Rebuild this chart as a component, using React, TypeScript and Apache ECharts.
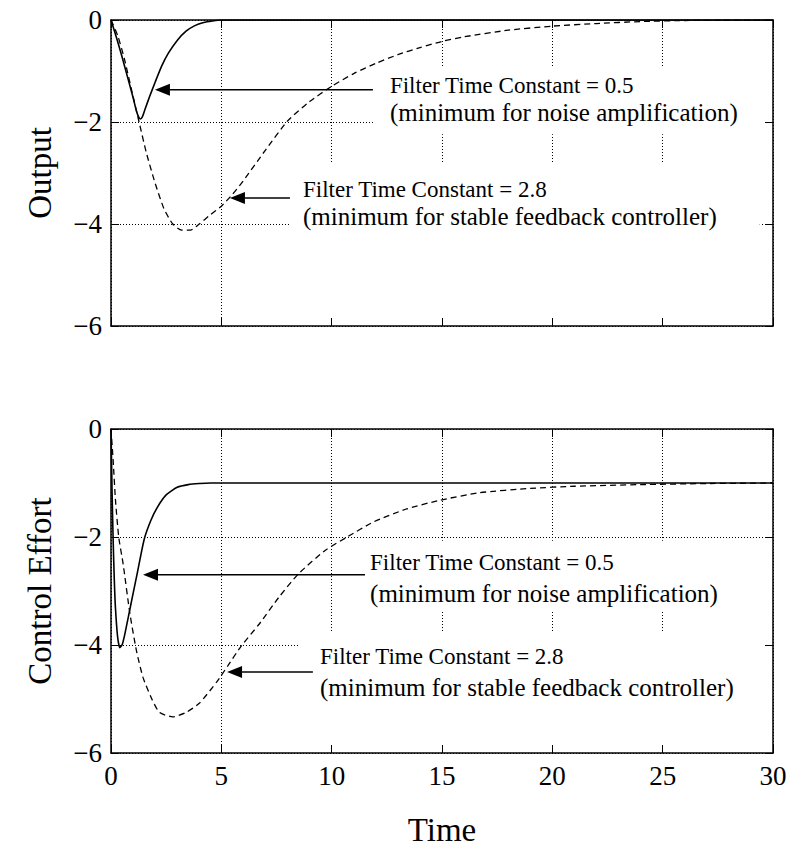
import React, { useEffect, useRef } from "react";
import * as echarts from "echarts";

// ---------- data ----------
const xTickValues = [0, 5, 10, 15, 20, 25, 30];
const yTickValues = [0, -2, -4, -6];

// Output, filter time constant 0.5 (solid)
const tOutFast = [0, 0.25, 0.5, 0.75, 1.0, 1.15, 1.25, 1.33, 1.42, 1.55, 1.75, 2.0, 2.3, 2.6, 3.0, 3.4, 3.8, 4.2, 4.6, 5, 30];
const vOutFast = [0, -0.35, -0.72, -1.12, -1.52, -1.78, -1.9, -1.94, -1.9, -1.74, -1.5, -1.22, -0.9, -0.65, -0.4, -0.22, -0.11, -0.05, -0.02, 0, 0];

// Output, filter time constant 2.8 (dashed)
const tOutSlow = [0, 0.3, 0.6, 1.0, 1.3, 1.6, 2.0, 2.4, 2.8, 3.2, 3.6, 4.0, 4.5, 5.0, 5.5, 6, 7, 8, 9, 10, 11, 12, 13, 14, 15, 16, 18, 20, 22, 24, 26, 30];
const vOutSlow = [0, -0.3, -0.75, -1.5, -2.05, -2.6, -3.2, -3.7, -4.0, -4.12, -4.12, -4.0, -3.82, -3.65, -3.42, -3.15, -2.55, -1.98, -1.6, -1.3, -1.05, -0.85, -0.68, -0.54, -0.42, -0.33, -0.2, -0.12, -0.07, -0.03, -0.01, 0];

// Control effort, filter time constant 0.5 (solid)
const tCtlFast = [0, 0.05, 0.1, 0.15, 0.2, 0.3, 0.4, 0.5, 0.6, 0.8, 1.0, 1.2, 1.5, 1.8, 2.1, 2.5, 3.0, 3.5, 4.0, 4.5, 5, 30];
const vCtlFast = [0, -1.2, -2.1, -2.8, -3.3, -3.85, -4.05, -4.0, -3.85, -3.45, -3.05, -2.65, -2.05, -1.7, -1.45, -1.22, -1.08, -1.03, -1.01, -1.0, -1.0, -1.0];

// Control effort, filter time constant 2.8 (dashed)
const tCtlSlow = [0, 0.1, 0.2, 0.35, 0.55, 0.85, 1.15, 1.45, 1.85, 2.2, 2.8, 3.4, 4.0, 4.8, 5.3, 5.9, 6.7, 7.6, 8.5, 9.7, 10.7, 11.9, 13.4, 14.9, 16.7, 19, 21, 24, 27, 30];
const vCtlSlow = [0, -0.6, -1.3, -2.0, -2.5, -3.4, -4.1, -4.6, -5.0, -5.25, -5.33, -5.25, -5.08, -4.68, -4.38, -4.02, -3.62, -3.12, -2.68, -2.25, -2.0, -1.72, -1.48, -1.32, -1.18, -1.1, -1.06, -1.03, -1.01, -1.0];

const labelFast = ["Filter Time Constant = 0.5", "(minimum for noise amplification)"];
const labelSlow = ["Filter Time Constant = 2.8", "(minimum for stable feedback controller)"];

const xTitle = "Time";
const yTitleTop = "Output";
const yTitleBottom = "Control Effort";

// ---------- annotation placement (data coordinates) ----------
const annotations = [
  { g: 0, lines: labelFast, tip: [1.99, -1.37], tailT: 11.87, textT: 12.64, line1V: -1.29, line2V: -1.82 },
  { g: 0, lines: labelSlow, tip: [5.39, -3.49], tailT: 8.11, textT: 8.7, line1V: -3.33, line2V: -3.86 },
  { g: 1, lines: labelFast, tip: [1.45, -2.7], tailT: 11.51, textT: 11.74, line1V: -2.48, line2V: -3.04 },
  { g: 1, lines: labelSlow, tip: [5.26, -4.5], tailT: 9.15, textT: 9.47, line1V: -4.22, line2V: -4.78 },
];
// white boxes behind the texts (hide grid lines), [t0, v0, t1, v1]
const masks = [
  { g: 0, box: [11.87, -0.94, 30, -2.24] },
  { g: 0, box: [8.11, -2.8, 29.4, -6] },
  { g: 1, box: [11.5, -2.07, 30, -3.39] },
  { g: 1, box: [8.56, -3.76, 30, -5.85] },
];

const FONT = "Liberation Serif";

const fmt = (v: number) => (v < 0 ? "\u2212" + Math.abs(v) : String(Math.abs(v)));

function makeOption(): any {
  const grids = [
    { left: 111, top: 20, width: 662, height: 306, containLabel: false, outerBoundsMode: "none" },
    { left: 111, top: 429, width: 662, height: 324, containLabel: false, outerBoundsMode: "none" },
  ];
  const xAxis: any[] = [];
  const yAxis: any[] = [];
  [0, 1].forEach((gi) => {
    const base = { type: "value", gridIndex: gi, min: 0, max: 30, interval: 5 };
    xAxis.push({
      ...base, position: "bottom", z: 0,
      axisLine: { show: false }, axisTick: { show: false }, axisLabel: { show: false },
      splitLine: { show: true, lineStyle: { color: "#000", width: 1, type: [1, 2] } },
    });
    xAxis.push({
      ...base, position: "bottom", z: 3,
      axisLine: { show: true, onZero: false, lineStyle: { color: "#000", width: 1.5 } },
      axisTick: { show: true, inside: true, length: 8, lineStyle: { color: "#000", width: 1 } },
      axisLabel: {
        show: gi === 1, margin: 9, color: "#000", fontFamily: FONT, fontSize: 27,
        formatter: (v: number) => (xTickValues.includes(v) ? fmt(v) : ""),
      },
      splitLine: { show: false },
      name: gi === 1 ? xTitle : "", nameLocation: "middle", nameGap: 60,
      nameTextStyle: { color: "#000", fontFamily: FONT, fontSize: 33 },
    });
    xAxis.push({
      ...base, position: "top", z: 3,
      axisLine: { show: true, onZero: false, lineStyle: { color: "#000", width: 1.5 } },
      axisTick: { show: true, inside: true, length: 8, lineStyle: { color: "#000", width: 1 } },
      axisLabel: { show: false }, splitLine: { show: false },
    });
    const ybase = { type: "value", gridIndex: gi, min: -6, max: 0, interval: 2 };
    yAxis.push({
      ...ybase, position: "left", z: 0,
      axisLine: { show: false }, axisTick: { show: false }, axisLabel: { show: false },
      splitLine: { show: true, lineStyle: { color: "#000", width: 1, type: [1, 2] } },
    });
    yAxis.push({
      ...ybase, position: "left", z: 3,
      axisLine: { show: true, onZero: false, lineStyle: { color: "#000", width: 1.5 } },
      axisTick: { show: true, inside: true, length: 8, lineStyle: { color: "#000", width: 1 } },
      axisLabel: {
        show: true, margin: 9, color: "#000", fontFamily: FONT, fontSize: 27,
        formatter: (v: number) => (yTickValues.includes(v) ? fmt(v) : ""),
      },
      splitLine: { show: false },
      name: gi === 0 ? yTitleTop : yTitleBottom, nameLocation: "middle", nameGap: 55, nameRotate: 90,
      nameTextStyle: { color: "#000", fontFamily: FONT, fontSize: 33 },
    });
    yAxis.push({
      ...ybase, position: "right", z: 3,
      axisLine: { show: true, onZero: false, lineStyle: { color: "#000", width: 1.5 } },
      axisTick: { show: true, inside: true, length: 8, lineStyle: { color: "#000", width: 1 } },
      axisLabel: { show: false }, splitLine: { show: false },
    });
  });

  const mk = (gi: number, ts: number[], vs: number[], dashed: boolean) => ({
    type: "line",
    xAxisIndex: gi * 3,
    yAxisIndex: gi * 3,
    data: ts.map((t, i) => [t, vs[i]]),
    showSymbol: false,
    symbol: "none",
    smooth: 0.2,
    z: 2,
    silent: true,
    lineStyle: { color: "#000", width: dashed ? 1.3 : 1.6, type: dashed ? [6, 4] : "solid" },
  });

  return {
    animation: false,
    backgroundColor: "#fff",
    grid: grids,
    xAxis,
    yAxis,
    series: [
      mk(0, tOutFast, vOutFast, false),
      mk(0, tOutSlow, vOutSlow, true),
      mk(1, tCtlFast, vCtlFast, false),
      mk(1, tCtlSlow, vCtlSlow, true),
    ],
  };
}

export default function App() {
  const ref = useRef<HTMLDivElement>(null);
  useEffect(() => {
    if (!ref.current) return;
    const chart = echarts.init(ref.current, undefined, { renderer: "svg" });
    chart.setOption(makeOption());
    const px = (g: number, p: number[]) =>
      chart.convertToPixel({ xAxisIndex: g * 3, yAxisIndex: g * 3 } as any, p) as number[];
    const elements: any[] = [];
    masks.forEach((m) => {
      const a = px(m.g, [m.box[0], m.box[1]]);
      const b = px(m.g, [m.box[2], m.box[3]]);
      elements.push({
        type: "rect", z: 1, silent: true,
        shape: { x: Math.min(a[0], b[0]), y: Math.min(a[1], b[1]), width: Math.abs(b[0] - a[0]), height: Math.abs(b[1] - a[1]) },
        style: { fill: "#fff", stroke: null },
      });
    });
    annotations.forEach((an) => {
      const tip = px(an.g, an.tip);
      const tail = px(an.g, [an.tailT, an.tip[1]]);
      const headLen = 15;
      const headHalf = 6;
      elements.push({
        type: "line", z: 4, silent: true,
        shape: { x1: tail[0], y1: tail[1], x2: tip[0] + headLen, y2: tip[1] },
        style: { stroke: "#000", lineWidth: 1.5 },
      });
      elements.push({
        type: "polygon", z: 4, silent: true,
        shape: { points: [[tip[0], tip[1]], [tip[0] + headLen, tip[1] - headHalf], [tip[0] + headLen, tip[1] + headHalf]] },
        style: { fill: "#000" },
      });
      const p1 = px(an.g, [an.textT, an.line1V]);
      const p2 = px(an.g, [an.textT, an.line2V]);
      [p1, p2].forEach((p, i) => {
        elements.push({
          type: "text", z: 4, silent: true, x: p[0], y: p[1],
          style: {
            text: an.lines[i], font: `${i === 0 ? 23 : 25}px "${FONT}"`, fill: "#000",
            align: "left", verticalAlign: "middle", textAlign: "left", textVerticalAlign: "middle",
          },
        });
      });
    });
    chart.setOption({ graphic: { elements } });
    return () => chart.dispose();
  }, []);
  return <div ref={ref} style={{ position: "absolute", left: 0, top: 0, width: 793, height: 851 }} />;
}
